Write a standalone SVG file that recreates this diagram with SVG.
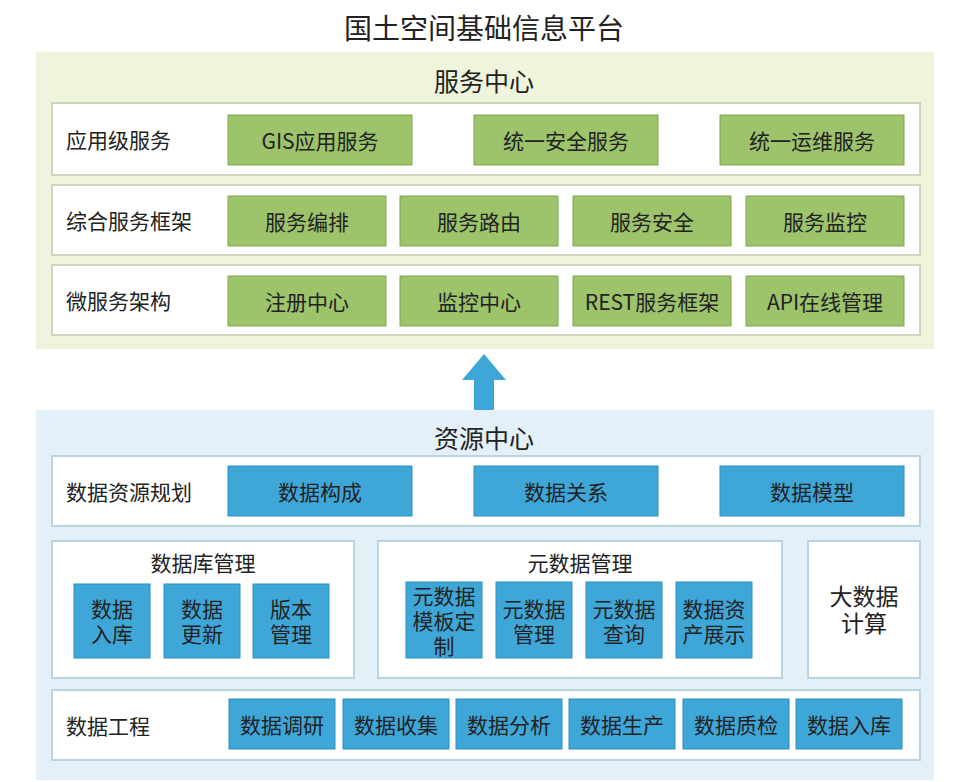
<svg xmlns="http://www.w3.org/2000/svg" width="968" height="782" viewBox="0 0 968 782">
<style>
text{font-family:"Noto Sans CJK SC","Liberation Sans",sans-serif;fill:#222;}
.t{font-size:21px;text-anchor:middle;dominant-baseline:central}
.l{font-size:21px;dominant-baseline:central}
.row{fill:#fff;stroke:#cfd6c0;stroke-width:2}
.rowb{fill:#fff;stroke:#bcd4e2;stroke-width:2}
.g{fill:#9dc36b;stroke:#7fa852;stroke-width:1}
.b{fill:#3fa6d8;stroke:#2c8fc0;stroke-width:1}
</style>
<rect width="968" height="782" fill="#fff"/>
<text class="t" x="484" y="27" style="font-size:28px">国土空间基础信息平台</text>
<g id="service-center">
<rect x="36" y="52" width="898" height="297" fill="#eef5dc"/>
<text class="t" x="484" y="80" style="font-size:25px">服务中心</text>
</g>
<g id="app-services">
<rect class="row" x="52" y="103" width="868" height="72"/>
<text class="l" x="66" y="139">应用级服务</text>
<rect class="g" x="228" y="115" width="184" height="50"/><text class="t" x="320" y="140">GIS应用服务</text>
<rect class="g" x="474" y="115" width="184" height="50"/><text class="t" x="566" y="140">统一安全服务</text>
<rect class="g" x="720" y="115" width="184" height="50"/><text class="t" x="812" y="140">统一运维服务</text>
</g>
<g id="framework">
<rect class="row" x="52" y="185" width="868" height="70"/>
<text class="l" x="66" y="220">综合服务框架</text>
<rect class="g" x="228" y="196" width="158" height="50"/><text class="t" x="307" y="221">服务编排</text>
<rect class="g" x="400" y="196" width="158" height="50"/><text class="t" x="479" y="221">服务路由</text>
<rect class="g" x="573" y="196" width="158" height="50"/><text class="t" x="652" y="221">服务安全</text>
<rect class="g" x="746" y="196" width="158" height="50"/><text class="t" x="825" y="221">服务监控</text>
</g>
<g id="microservice">
<rect class="row" x="52" y="265" width="868" height="70"/>
<text class="l" x="66" y="300">微服务架构</text>
<rect class="g" x="228" y="276" width="158" height="50"/><text class="t" x="307" y="301">注册中心</text>
<rect class="g" x="400" y="276" width="158" height="50"/><text class="t" x="479" y="301">监控中心</text>
<rect class="g" x="573" y="276" width="158" height="50"/><text class="t" x="652" y="301">REST服务框架</text>
<rect class="g" x="746" y="276" width="158" height="50"/><text class="t" x="825" y="301">API在线管理</text>
</g>
<g id="connectors">
<polygon points="474,410 494,410 494,380 506,380 484,354 462,380 474,380" fill="#3fa6d8"/>
</g>
<g id="resource-center">
<rect x="36" y="410" width="898" height="370" fill="#e3f0f8"/>
<text class="t" x="484" y="437" style="font-size:25px">资源中心</text>
</g>
<g id="planning">
<rect class="rowb" x="52" y="456" width="868" height="70"/>
<text class="l" x="66" y="491">数据资源规划</text>
<rect class="b" x="228" y="466" width="184" height="50"/><text class="t" x="320" y="491">数据构成</text>
<rect class="b" x="474" y="466" width="184" height="50"/><text class="t" x="566" y="491">数据关系</text>
<rect class="b" x="720" y="466" width="184" height="50"/><text class="t" x="812" y="491">数据模型</text>
</g>
<g id="db-mgmt">
<rect class="rowb" x="52" y="541" width="302" height="137"/>
<text class="t" x="203" y="562">数据库管理</text>
<rect class="b" x="74" y="584" width="76" height="74"/><text class="t" x="112" y="608">数据</text><text class="t" x="112" y="633">入库</text>
<rect class="b" x="164" y="584" width="76" height="74"/><text class="t" x="202" y="608">数据</text><text class="t" x="202" y="633">更新</text>
<rect class="b" x="253" y="584" width="76" height="74"/><text class="t" x="291" y="608">版本</text><text class="t" x="291" y="633">管理</text>
</g>
<g id="meta-mgmt">
<rect class="rowb" x="378" y="541" width="404" height="137"/>
<text class="t" x="580" y="562">元数据管理</text>
<rect class="b" x="406" y="582" width="76" height="76"/><text class="t" x="444" y="595">元数据</text><text class="t" x="444" y="620">模板定</text><text class="t" x="444" y="645">制</text>
<rect class="b" x="496" y="582" width="76" height="76"/><text class="t" x="534" y="608">元数据</text><text class="t" x="534" y="633">管理</text>
<rect class="b" x="586" y="582" width="76" height="76"/><text class="t" x="624" y="608">元数据</text><text class="t" x="624" y="633">查询</text>
<rect class="b" x="676" y="582" width="76" height="76"/><text class="t" x="714" y="608">数据资</text><text class="t" x="714" y="633">产展示</text>
</g>
<g id="bigdata">
<rect class="rowb" x="808" y="541" width="112" height="137"/>
<text class="t" x="864" y="595" style="font-size:23px">大数据</text><text class="t" x="864" y="622" style="font-size:23px">计算</text>
</g>
<g id="engineering">
<rect class="rowb" x="52" y="690" width="868" height="70"/>
<text class="l" x="66" y="725">数据工程</text>
<rect class="b" x="229" y="699" width="106" height="50"/><text class="t" x="282" y="724">数据调研</text>
<rect class="b" x="343" y="699" width="106" height="50"/><text class="t" x="396" y="724">数据收集</text>
<rect class="b" x="456" y="699" width="106" height="50"/><text class="t" x="509" y="724">数据分析</text>
<rect class="b" x="569" y="699" width="106" height="50"/><text class="t" x="622" y="724">数据生产</text>
<rect class="b" x="683" y="699" width="106" height="50"/><text class="t" x="736" y="724">数据质检</text>
<rect class="b" x="796" y="699" width="106" height="50"/><text class="t" x="849" y="724">数据入库</text>
</g>
</svg>
